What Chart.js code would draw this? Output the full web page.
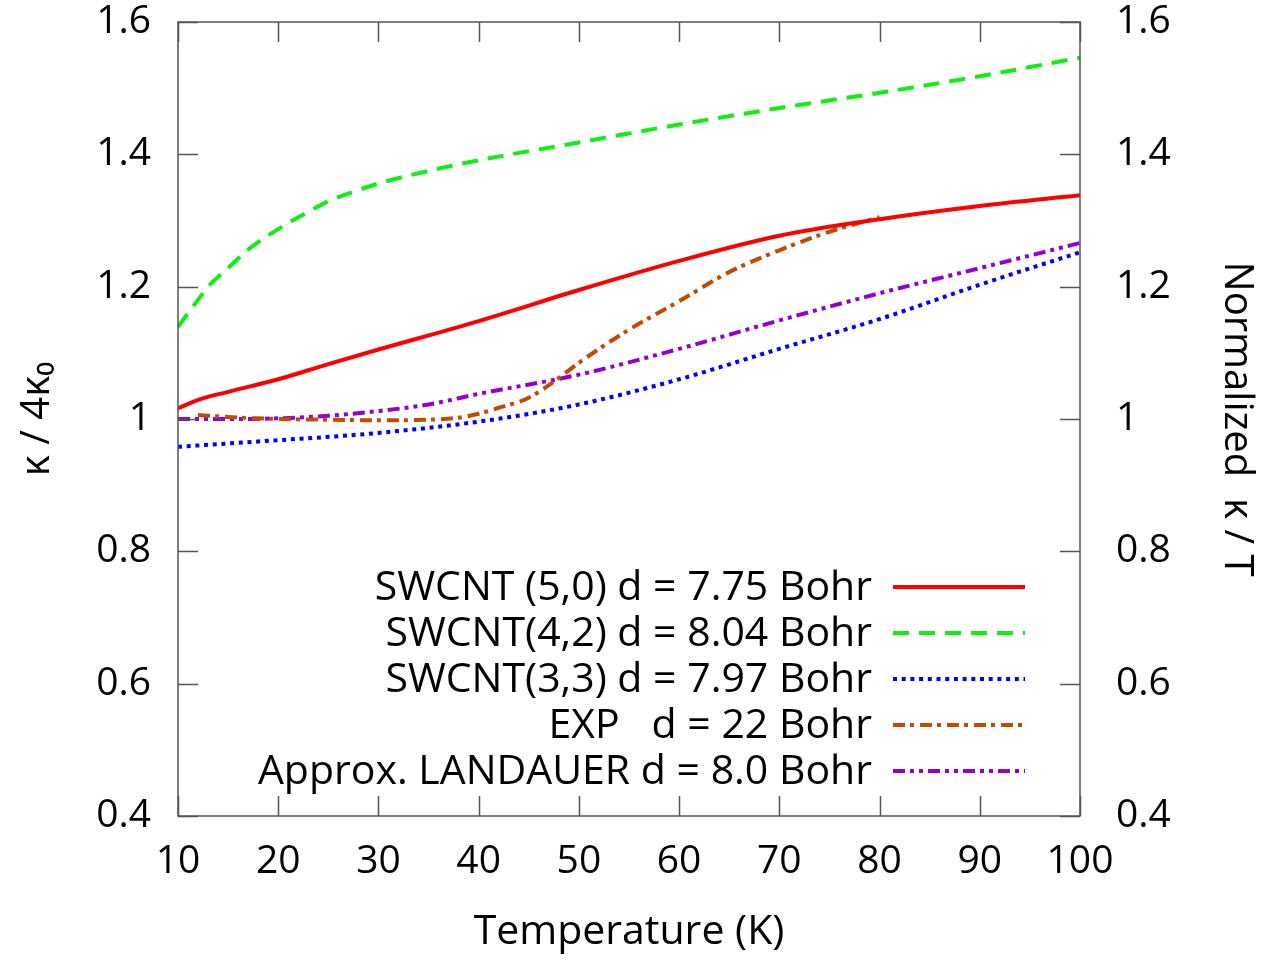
<!DOCTYPE html>
<html>
<head>
<meta charset="utf-8">
<script src="https://cdn.jsdelivr.net/npm/chart.js@4.4.1/dist/chart.umd.min.js"></script>
<style>
  html, body { margin: 0; padding: 0; background: #fff; }
  #wrap { width: 1270px; height: 961px; }
</style>
</head>
<body>
<div id="wrap"><canvas id="chart"></canvas></div>
<script>
// temperatures (K) and kappa / 4 kappa0
const temps = [10, 12, 15, 20, 25, 30, 40, 50, 60, 70, 80, 90, 100];
const swcnt50 = [1.016, 1.029, 1.041, 1.060, 1.083, 1.105, 1.148, 1.195, 1.239, 1.277, 1.302, 1.322, 1.338];
const swcnt33 = [0.958, 0.960, 0.963, 0.968, 0.973, 0.979, 0.996, 1.022, 1.060, 1.106, 1.151, 1.203, 1.252];
const greenTemps = [10, 11, 12, 13, 15, 17, 20, 23, 25, 28, 30, 35, 40, 50, 60, 70, 80, 90, 100];
const swcnt42 = [1.139, 1.160, 1.180, 1.200, 1.228, 1.256, 1.287, 1.313, 1.329, 1.346, 1.356, 1.375, 1.391, 1.418, 1.445, 1.470, 1.493, 1.518, 1.546];
const landauerTemps = [10, 15, 20, 25, 30, 35, 40, 50, 60, 70, 80, 90, 100];
const landauer = [1.000, 1.000, 1.001, 1.005, 1.012, 1.022, 1.038, 1.067, 1.106, 1.149, 1.190, 1.228, 1.266];
const expTemps = [12, 15, 20, 25, 30, 35, 38, 40, 42, 45, 48, 50, 55, 60, 65, 70, 75, 80];
const expVals = [1.006, 1.003, 1.000, 0.999, 0.998, 0.999, 1.002, 1.008, 1.017, 1.032, 1.062, 1.085, 1.135, 1.178, 1.222, 1.255, 1.283, 1.305];

const xTicks = [10, 20, 30, 40, 50, 60, 70, 80, 90, 100];
const yTicks = [0.4, 0.6, 0.8, 1.0, 1.2, 1.4, 1.6];

const legendLabels = [
  "SWCNT (5,0) d = 7.75 Bohr",
  "SWCNT(4,2) d = 8.04 Bohr",
  "SWCNT(3,3) d = 7.97 Bohr",
  "EXP   d = 22 Bohr",
  "Approx. LANDAUER d = 8.0 Bohr"
];

const FONT = "'Open Sans', sans-serif";

function pts(xs, ys) {
  return xs.map((x, i) => ({ x: x, y: ys[i] }));
}

// no extra room for half-labels at the ends of the axes
function noEdgePad(s) {
  s.paddingTop = 0; s.paddingBottom = 0; s.paddingLeft = 0; s.paddingRight = 0;
}

// frame + inward ticks on all four sides (gnuplot look)
const framePlugin = {
  id: "frame",
  afterDraw(chart) {
    const { ctx, chartArea: a, scales } = chart;
    ctx.save();
    ctx.strokeStyle = "#555";
    ctx.lineWidth = 1.5;
    ctx.strokeRect(a.left, a.top, a.right - a.left, a.bottom - a.top);
    const len = 20;
    ctx.beginPath();
    xTicks.forEach(v => {
      const px = Math.round(scales.x.getPixelForValue(v)) + 0.5;
      ctx.moveTo(px, a.bottom); ctx.lineTo(px, a.bottom - len);
      ctx.moveTo(px, a.top); ctx.lineTo(px, a.top + len);
    });
    yTicks.forEach(v => {
      const py = Math.round(scales.y.getPixelForValue(v)) + 0.5;
      ctx.moveTo(a.left, py); ctx.lineTo(a.left + len, py);
      ctx.moveTo(a.right, py); ctx.lineTo(a.right - len, py);
    });
    ctx.stroke();
    ctx.restore();
  }
};

// legend drawn gnuplot style: text right aligned, sample line to the right
const legendPlugin = {
  id: "keyBox",
  afterDatasetsDraw(chart) {
    const { ctx, chartArea: a } = chart;
    const textRight = a.right - 208;
    const lineL = a.right - 187, lineR = a.right - 55;
    const y0 = a.bottom - 229, dy = 46;
    ctx.save();
    ctx.font = "41px " + FONT;
    ctx.textAlign = "right";
    ctx.textBaseline = "middle";
    chart.data.datasets.forEach((ds, i) => {
      const y = y0 + i * dy;
      ctx.fillStyle = "#000";
      ctx.fillText(legendLabels[i], textRight, y + 1);
      ctx.strokeStyle = ds.borderColor;
      ctx.lineWidth = ds.borderWidth;
      ctx.setLineDash(ds.borderDash || []);
      ctx.beginPath();
      ctx.moveTo(lineL, y);
      ctx.lineTo(lineR, y);
      ctx.stroke();
    });
    ctx.restore();
  }
};

const lineDefaults = { pointRadius: 0, borderWidth: 4, fill: false, cubicInterpolationMode: "monotone", borderCapStyle: "butt" };

new Chart(document.getElementById("chart"), {
  type: "line",
  data: {
    datasets: [
      Object.assign({ label: legendLabels[0], data: pts(temps, swcnt50), borderColor: "#ff0000" }, lineDefaults),
      Object.assign({ label: legendLabels[1], data: pts(greenTemps, swcnt42), borderColor: "#11ee11", borderDash: [16, 10] }, lineDefaults),
      Object.assign({ label: legendLabels[2], data: pts(temps, swcnt33), borderColor: "#0000ff", borderDash: [4, 4.7] }, lineDefaults),
      Object.assign({ label: legendLabels[3], data: pts(expTemps, expVals), borderColor: "#c44a00", borderDash: [12, 5, 4, 6] }, lineDefaults),
      Object.assign({ label: legendLabels[4], data: pts(landauerTemps, landauer), borderColor: "#9400d3", borderDash: [12, 5, 4, 5, 4, 5] }, lineDefaults)
    ]
  },
  options: {
    responsive: true,
    maintainAspectRatio: false,
    animation: false,
    layout: { padding: { top: 22, left: 0, right: 0, bottom: 0 } },
    plugins: { legend: { display: false }, tooltip: { enabled: false } },
    scales: {
      x: {
        type: "linear", min: 10, max: 100,
        afterBuildTicks: s => { s.ticks = xTicks.map(v => ({ value: v })); },
        afterFit: s => { s.height = 145; noEdgePad(s); },
        grid: { display: false, drawTicks: false },
        border: { display: false },
        ticks: { color: "#000", font: { family: FONT, size: 39 }, padding: 22, maxRotation: 0, autoSkip: false },
        title: { display: true, text: "Temperature (K)", color: "#000", font: { family: FONT, size: 41 }, padding: { top: 0, bottom: 4 } }
      },
      y: {
        type: "linear", position: "left", min: 0.4, max: 1.6,
        afterBuildTicks: s => { s.ticks = yTicks.map(v => ({ value: v })); },
        afterFit: s => { s.width = 178; noEdgePad(s); },
        grid: { display: false, drawTicks: false },
        border: { display: false },
        ticks: { color: "#000", font: { family: FONT, size: 39 }, padding: 27, callback: v => String(+v.toFixed(1)) },
        title: { display: true, text: "κ / 4κ₀", color: "#000", font: { family: FONT, size: 40 }, padding: { top: 14 } }
      },
      y2: {
        type: "linear", position: "right", min: 0.4, max: 1.6,
        afterBuildTicks: s => { s.ticks = yTicks.map(v => ({ value: v })); },
        afterFit: s => { s.width = 190; noEdgePad(s); },
        grid: { display: false, drawTicks: false },
        border: { display: false },
        ticks: { color: "#000", font: { family: FONT, size: 39 }, padding: 36, callback: v => String(+v.toFixed(1)) },
        title: { display: true, text: "Normalized  κ / T", color: "#000", font: { family: FONT, size: 40 }, padding: { top: 10 } }
      }
    }
  },
  plugins: [framePlugin, legendPlugin]
});
</script>
</body>
</html>
